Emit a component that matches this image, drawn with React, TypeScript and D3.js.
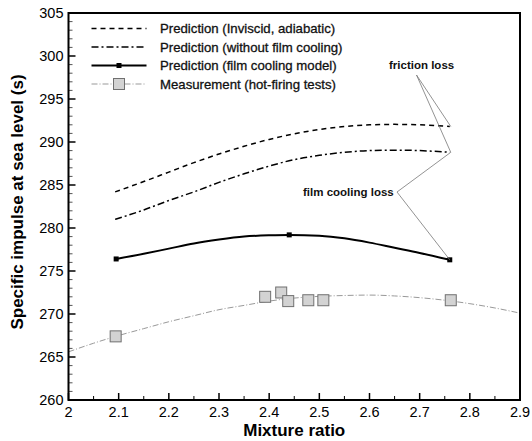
import React from "react";
import * as d3 from "d3";

const width = 532,
  height = 441;
const margin = { top: 13, right: 12, bottom: 41, left: 68.5 };

// values
const inviscidX = [2.093, 2.15, 2.2, 2.25, 2.3, 2.35, 2.4, 2.45, 2.5, 2.55, 2.6, 2.65, 2.7, 2.76];
const inviscidY = [284.2, 285.4, 286.5, 287.6, 288.6, 289.5, 290.3, 290.95, 291.45, 291.8, 292.0, 292.05, 292.0, 291.8];

const noFilmX = [2.093, 2.15, 2.2, 2.25, 2.3, 2.35, 2.4, 2.45, 2.5, 2.55, 2.6, 2.65, 2.7, 2.76];
const noFilmY = [281.0, 282.1, 283.2, 284.2, 285.3, 286.3, 287.2, 287.95, 288.45, 288.8, 289.0, 289.05, 289.0, 288.8];

const filmX = [2.095, 2.15, 2.2, 2.25, 2.3, 2.35, 2.4, 2.44, 2.5, 2.55, 2.6, 2.65, 2.7, 2.76];
const filmY = [276.4, 277.0, 277.6, 278.2, 278.65, 279.0, 279.15, 279.2, 279.1, 278.8, 278.3, 277.7, 277.1, 276.3];
const filmMarkX = [2.095, 2.44, 2.76];
const filmMarkY = [276.4, 279.2, 276.3];

const fitX = [2.0, 2.05, 2.1, 2.15, 2.2, 2.25, 2.3, 2.35, 2.4, 2.45, 2.5, 2.55, 2.6, 2.65, 2.7, 2.75, 2.8, 2.85, 2.9];
const fitY = [265.6, 266.6, 267.5, 268.3, 269.1, 269.8, 270.5, 271.0, 271.5, 271.85, 272.05, 272.15, 272.2, 272.1, 271.9, 271.6, 271.2, 270.7, 270.1];

const measX = [2.094, 2.392, 2.424, 2.438, 2.478, 2.508, 2.762];
const measY = [267.4, 272.0, 272.5, 271.5, 271.6, 271.6, 271.6];

const xTicks = [2, 2.1, 2.2, 2.3, 2.4, 2.5, 2.6, 2.7, 2.8, 2.9];
const yTicks = [260, 265, 270, 275, 280, 285, 290, 295, 300, 305];

const legendLabels = [
  "Prediction (Inviscid, adiabatic)",
  "Prediction (without film cooling)",
  "Prediction (film cooling model)",
  "Measurement (hot-firing tests)",
];

const font = "Liberation Sans, Arial, sans-serif";

export default function App() {
  const x = d3
    .scaleLinear()
    .domain([2, 2.9])
    .range([margin.left, width - margin.right]);
  const y = d3
    .scaleLinear()
    .domain([260, 305])
    .range([height - margin.bottom, margin.top]);

  const line = d3
    .line<number>()
    .curve(d3.curveMonotoneX);
  const path = (xs: number[], ys: number[]) =>
    line.x((_, i) => x(xs[i])).y((_, i) => y(ys[i]))(xs);

  const x0 = margin.left,
    x1 = width - margin.right,
    y0 = height - margin.bottom,
    y1 = margin.top;

  const xMinor = d3.range(2, 2.9001, 0.05).map((v) => +v.toFixed(2));
  const yMinor = d3.range(260, 305.001, 1);

  // annotation anchors (at ends of curves)
  const iEnd = [x(2.762), y(291.8)];
  const nEnd = [x(2.762), y(288.8)];
  const fEnd = [x(2.76), y(276.3)];
  const frictionApex = [416.5, 75];
  const filmApex = [397, 192];

  const legendRows = [28.5, 47, 65.5, 84];
  const legX0 = 91.5,
    legX1 = 146.5,
    legText = 160;

  return (
    <svg
      width={width}
      height={height}
      style={{ position: "absolute", left: 0, top: 0, background: "#fff" }}
      fontFamily={font}
    >
      <rect width={width} height={height} fill="#fff" />

      {/* minor and major ticks */}
      {xMinor.map((v) => {
        const major = Math.abs(v * 10 - Math.round(v * 10)) < 1e-6;
        return (
          <line
            key={"xt" + v}
            x1={x(v)}
            x2={x(v)}
            y1={y0}
            y2={y0 - (major ? 7 : 4)}
            stroke="#000"
            strokeWidth={major ? 1.5 : 1}
          />
        );
      })}
      {yMinor.map((v) => {
        const major = v % 5 === 0;
        return (
          <line
            key={"yt" + v}
            x1={x0}
            x2={x0 + (major ? 7 : 4)}
            y1={y(v)}
            y2={y(v)}
            stroke={major ? "#000" : "#555"}
            strokeWidth={major ? 1.5 : 1}
          />
        );
      })}

      {/* measurement fit */}
      <path
        d={path(fitX, fitY) || ""}
        fill="none"
        stroke="#999"
        strokeWidth={1}
        strokeDasharray="6 2 1 2"
      />
      {/* predictions */}
      <path
        d={path(inviscidX, inviscidY) || ""}
        fill="none"
        stroke="#000"
        strokeWidth={1.5}
        strokeDasharray="5 4"
      />
      <path
        d={path(noFilmX, noFilmY) || ""}
        fill="none"
        stroke="#000"
        strokeWidth={1.5}
        strokeDasharray="7 3 2 3"
      />
      <path
        d={path(filmX, filmY) || ""}
        fill="none"
        stroke="#000"
        strokeWidth={2}
      />
      {filmMarkX.map((v, i) => (
        <rect
          key={"fm" + i}
          x={x(v) - 2.5}
          y={y(filmMarkY[i]) - 2.5}
          width={5}
          height={5}
          fill="#000"
        />
      ))}

      {/* annotations */}
      <g stroke="#777" strokeWidth={0.8} fill="none">
        <polyline points={`${iEnd[0]},${iEnd[1]} ${frictionApex[0]},${frictionApex[1]} ${nEnd[0]},${nEnd[1]}`} />
        <polyline points={`${nEnd[0]},${nEnd[1]} ${filmApex[0]},${filmApex[1]} ${fEnd[0]},${fEnd[1]}`} />
      </g>
      <text x={389} y={69} fontSize={11.5} fontWeight="bold" fill="#111">
        friction loss
      </text>
      <text x={303} y={196} fontSize={11.5} fontWeight="bold" fill="#111">
        film cooling loss
      </text>

      {/* measurements */}
      {measX.map((v, i) => (
        <rect
          key={"m" + i}
          x={x(v) - 5.5}
          y={y(measY[i]) - 5.5}
          width={11}
          height={11}
          fill="#d3d3d3"
          stroke="#707070"
          strokeWidth={1}
        />
      ))}

      {/* legend */}
      <line x1={legX0} x2={legX1} y1={legendRows[0]} y2={legendRows[0]} stroke="#000" strokeWidth={1.5} strokeDasharray="5 4" />
      <line x1={legX0} x2={legX1} y1={legendRows[1]} y2={legendRows[1]} stroke="#000" strokeWidth={1.5} strokeDasharray="7 3 2 3" />
      <line x1={legX0} x2={legX1} y1={legendRows[2]} y2={legendRows[2]} stroke="#000" strokeWidth={2} />
      <rect x={(legX0 + legX1) / 2 - 2.5} y={legendRows[2] - 2.5} width={5} height={5} fill="#000" />
      <line x1={legX0} x2={legX1} y1={legendRows[3]} y2={legendRows[3]} stroke="#999" strokeWidth={1} strokeDasharray="6 2 1 2" />
      <rect
        x={(legX0 + legX1) / 2 - 5.5}
        y={legendRows[3] - 5.5}
        width={11}
        height={11}
        fill="#d3d3d3"
        stroke="#707070"
      />
      {legendLabels.map((t, i) => (
        <text
          key={t}
          x={legText}
          y={legendRows[i] + 4.5}
          fontSize={13.2}
          fill="#111"
          stroke="#111"
          strokeWidth={0.3}
        >
          {t}
        </text>
      ))}

      {/* frame */}
      <rect
        x={x0}
        y={y1}
        width={x1 - x0}
        height={y0 - y1}
        fill="none"
        stroke="#000"
        strokeWidth={2}
      />

      {/* tick labels */}
      {xTicks.map((v) => (
        <text
          key={"xl" + v}
          x={x(v)}
          y={y0 + 17}
          fontSize={14.5}
          textAnchor="middle"
          fill="#000"
        >
          {v === 2 ? "2" : d3.format(".1f")(v)}
        </text>
      ))}
      {yTicks.map((v) => (
        <text
          key={"yl" + v}
          x={x0 - 5}
          y={y(v) + 5}
          fontSize={14.5}
          textAnchor="end"
          fill="#000"
        >
          {v}
        </text>
      ))}

      {/* axis titles */}
      <text
        x={(x0 + x1) / 2}
        y={436}
        fontSize={17}
        fontWeight="bold"
        textAnchor="middle"
      >
        Mixture ratio
      </text>
      <text
        transform={`translate(23,202) rotate(-90)`}
        fontSize={17}
        fontWeight="bold"
        textAnchor="middle"
      >
        Specific impulse at sea level (s)
      </text>
    </svg>
  );
}
